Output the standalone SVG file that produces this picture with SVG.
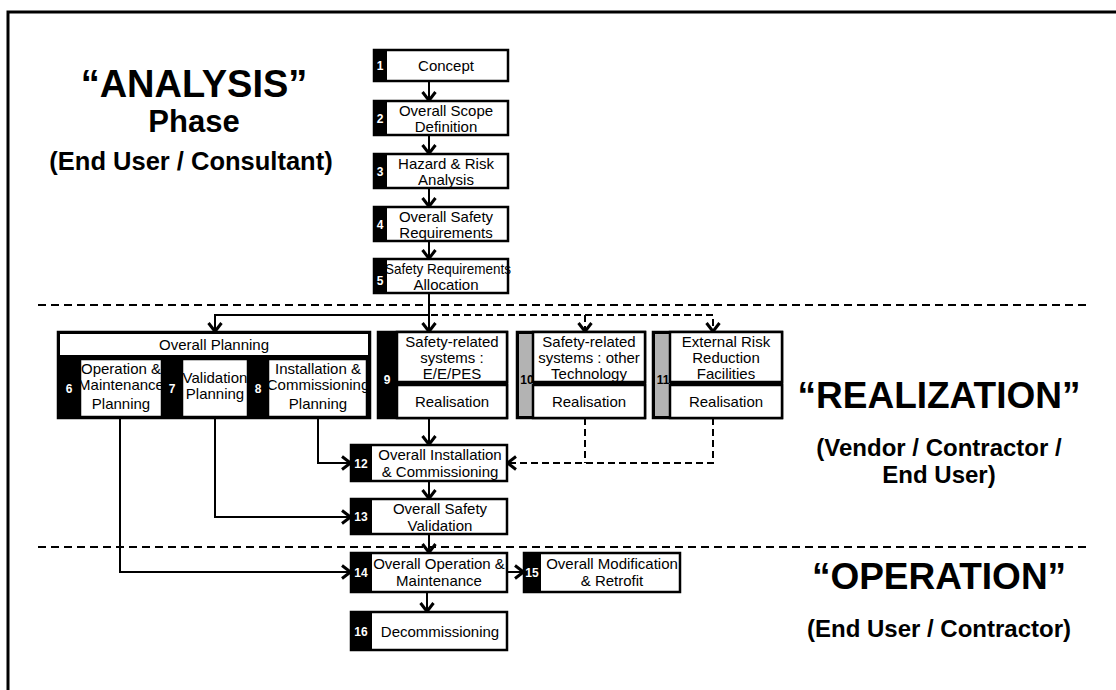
<svg xmlns="http://www.w3.org/2000/svg" width="1116" height="690" viewBox="0 0 1116 690">
  <style>
    .bx { fill: #fff; stroke: #000; stroke-width: 2.5; }
    .blk { fill: #000; }
    .t { font-family: "Liberation Sans", Arial, sans-serif; font-size: 15px; text-anchor: middle; fill: #000; }
    .n { font-family: "Liberation Sans", Arial, sans-serif; font-size: 12px; font-weight: bold; text-anchor: middle; fill: #fff; }
    .nk { font-family: "Liberation Sans", Arial, sans-serif; font-size: 12px; font-weight: bold; text-anchor: middle; fill: #000; }
    .h { font-family: "Liberation Sans", Arial, sans-serif; font-weight: bold; text-anchor: middle; fill: #000; }
    .ln { fill: none; stroke: #000; stroke-width: 2; }
    .dl { fill: none; stroke: #000; stroke-width: 2; stroke-dasharray: 7 4; }
    .ph { fill: none; stroke: #000; stroke-width: 2; stroke-dasharray: 8 5; }
  </style>
  <defs>
    <marker id="arr" viewBox="0 -8 12 16" refX="11" refY="0" markerWidth="12" markerHeight="16" orient="auto" markerUnits="userSpaceOnUse">
      <path d="M2,-6.5 L10.5,0 L2,6.5" fill="none" stroke="#000" stroke-width="3"/>
    </marker>
  </defs>

  <rect width="1116" height="690" fill="#fff"/>
  <!-- page frame -->
  <path d="M8,690 V12 H1116" fill="none" stroke="#000" stroke-width="3"/>

  <!-- phase separators -->
  <line class="ph" x1="38" y1="305" x2="1090" y2="305"/>
  <line class="ph" x1="38" y1="547" x2="1090" y2="547"/>

  <!-- phase headings -->
  <g id="analysis-heading">
    <text class="h" x="194" y="97" font-size="38">“ANALYSIS”</text>
    <text class="h" x="194" y="132" font-size="31">Phase</text>
    <text class="h" x="191" y="170" font-size="25.5">(End User / Consultant)</text>
  </g>
  <g id="realization-heading">
    <text class="h" x="939" y="408" font-size="37">“REALIZATION”</text>
    <text class="h" x="939" y="456" font-size="24">(Vendor / Contractor /</text>
    <text class="h" x="939" y="483" font-size="24">End User)</text>
  </g>
  <g id="operation-heading">
    <text class="h" x="939" y="589" font-size="37">“OPERATION”</text>
    <text class="h" x="939" y="637" font-size="24">(End User / Contractor)</text>
  </g>

  <!-- connectors -->
  <g id="connectors">
    <path class="ln" d="M429,81 V101" marker-end="url(#arr)"/>
    <path class="ln" d="M429,135 V154" marker-end="url(#arr)"/>
    <path class="ln" d="M429,188 V207" marker-end="url(#arr)"/>
    <path class="ln" d="M429,241 V259" marker-end="url(#arr)"/>
    <path class="ln" d="M429,293 V332" marker-end="url(#arr)"/>
    <path class="ln" d="M429,315 H215 V332" marker-end="url(#arr)"/>
    <path class="dl" d="M431,315 H585 V332" marker-end="url(#arr)"/>
    <path class="dl" d="M585,315 H713 V332" marker-end="url(#arr)"/>
    <path class="ln" d="M429,418 V445" marker-end="url(#arr)"/>
    <path class="ln" d="M318,418 V463 H351" marker-end="url(#arr)"/>
    <path class="dl" d="M713,418 V463 H507" marker-end="url(#arr)"/>
    <path class="dl" d="M585,418 V463"/>
    <path class="ln" d="M429,481 V499" marker-end="url(#arr)"/>
    <path class="ln" d="M215,418 V517 H351" marker-end="url(#arr)"/>
    <path class="ln" d="M429,534 V553" marker-end="url(#arr)"/>
    <path class="ln" d="M120,418 V572 H351" marker-end="url(#arr)"/>
    <path class="ln" d="M507,572 H524" marker-end="url(#arr)"/>
    <path class="ln" d="M427,592 V612" marker-end="url(#arr)"/>
  </g>

  <!-- analysis chain -->
  <g id="n1">
    <rect class="bx" x="374" y="50" width="134" height="31"/>
    <rect class="blk" x="374" y="50" width="13" height="31"/>
    <text class="n" x="380" y="70">1</text>
    <text class="t" x="446" y="71">Concept</text>
  </g>
  <g id="n2">
    <rect class="bx" x="374" y="101" width="134" height="34"/>
    <rect class="blk" x="374" y="101" width="13" height="34"/>
    <text class="n" x="380" y="123">2</text>
    <text class="t" x="446" y="116">Overall Scope</text>
    <text class="t" x="446" y="132">Definition</text>
  </g>
  <g id="n3">
    <rect class="bx" x="374" y="154" width="134" height="34"/>
    <rect class="blk" x="374" y="154" width="13" height="34"/>
    <text class="n" x="380" y="176">3</text>
    <text class="t" x="446" y="169">Hazard &amp; Risk</text>
    <text class="t" x="446" y="185">Analysis</text>
  </g>
  <g id="n4">
    <rect class="bx" x="374" y="207" width="134" height="34"/>
    <rect class="blk" x="374" y="207" width="13" height="34"/>
    <text class="n" x="380" y="229">4</text>
    <text class="t" x="446" y="222">Overall Safety</text>
    <text class="t" x="446" y="238">Requirements</text>
  </g>
  <g id="n5">
    <rect class="bx" x="374" y="259" width="134" height="34"/>
    <text class="t" x="448" y="274" textLength="126" lengthAdjust="spacingAndGlyphs">Safety Requirements</text>
    <text class="t" x="446" y="290">Allocation</text>
    <rect class="blk" x="374" y="259" width="13" height="34"/>
    <text class="n" x="380" y="285">5</text>
  </g>

  <!-- overall planning (6, 7, 8) -->
  <g id="overall-planning">
    <rect x="58" y="332" width="312" height="86" fill="#000" stroke="#000" stroke-width="2.5"/>
    <rect x="60" y="334" width="308" height="21" fill="#fff"/>
    <text class="t" x="214" y="350">Overall Planning</text>
  </g>
  <g id="n6">
    <rect class="bx" x="80" y="359" width="82" height="58"/>
    <text class="n" x="69" y="393">6</text>
    <text class="t" x="121" y="374">Operation &amp;</text>
    <text class="t" x="121" y="390">Maintenance</text>
    <text class="t" x="121" y="409">Planning</text>
  </g>
  <g id="n7">
    <rect class="bx" x="182" y="359" width="66" height="58"/>
    <text class="n" x="172" y="393">7</text>
    <text class="t" x="215" y="383">Validation</text>
    <text class="t" x="215" y="399">Planning</text>
  </g>
  <g id="n8">
    <rect class="bx" x="268" y="359" width="99" height="58"/>
    <text class="n" x="258" y="393">8</text>
    <text class="t" x="318" y="374">Installation &amp;</text>
    <text class="t" x="318" y="390">Commissioning</text>
    <text class="t" x="318" y="409">Planning</text>
  </g>

  <!-- realisation boxes -->
  <g id="n9">
    <rect x="378" y="332" width="129" height="86" fill="#000" stroke="#000" stroke-width="2.5"/>
    <rect class="bx" x="397" y="332" width="110" height="50"/>
    <rect class="bx" x="397" y="385" width="110" height="33"/>
    <text class="n" x="387" y="384">9</text>
    <text class="t" x="452" y="347">Safety-related</text>
    <text class="t" x="452" y="363">systems :</text>
    <text class="t" x="452" y="379">E/E/PES</text>
    <text class="t" x="452" y="407">Realisation</text>
  </g>
  <g id="n10">
    <rect x="517" y="332" width="128" height="86" fill="#000" stroke="#000" stroke-width="2.5"/>
    <rect x="519" y="334" width="14" height="82" fill="#b3b3b3"/>
    <rect class="bx" x="533" y="332" width="112" height="50"/>
    <rect class="bx" x="533" y="385" width="112" height="33"/>
    <text class="nk" x="527" y="384">10</text>
    <text class="t" x="589" y="347">Safety-related</text>
    <text class="t" x="589" y="363">systems : other</text>
    <text class="t" x="589" y="379">Technology</text>
    <text class="t" x="589" y="407">Realisation</text>
  </g>
  <g id="n11">
    <rect x="653" y="332" width="129" height="86" fill="#000" stroke="#000" stroke-width="2.5"/>
    <rect x="655" y="334" width="15" height="82" fill="#b3b3b3"/>
    <rect class="bx" x="670" y="332" width="112" height="50"/>
    <rect class="bx" x="670" y="385" width="112" height="33"/>
    <text class="nk" x="663" y="384">11</text>
    <text class="t" x="726" y="347">External Risk</text>
    <text class="t" x="726" y="363">Reduction</text>
    <text class="t" x="726" y="379">Facilities</text>
    <text class="t" x="726" y="407">Realisation</text>
  </g>

  <!-- installation, validation, operation -->
  <g id="n12">
    <rect class="bx" x="351" y="445" width="156" height="36"/>
    <rect class="blk" x="351" y="445" width="21" height="36"/>
    <text class="n" x="361" y="468">12</text>
    <text class="t" x="440" y="460">Overall Installation</text>
    <text class="t" x="440" y="477">&amp; Commissioning</text>
  </g>
  <g id="n13">
    <rect class="bx" x="351" y="499" width="156" height="35"/>
    <rect class="blk" x="351" y="499" width="21" height="35"/>
    <text class="n" x="361" y="521">13</text>
    <text class="t" x="440" y="514">Overall Safety</text>
    <text class="t" x="440" y="531">Validation</text>
  </g>
  <g id="n14">
    <rect class="bx" x="351" y="553" width="156" height="39"/>
    <rect class="blk" x="351" y="553" width="21" height="39"/>
    <text class="n" x="361" y="577">14</text>
    <text class="t" x="439" y="569">Overall Operation &amp;</text>
    <text class="t" x="439" y="586">Maintenance</text>
  </g>
  <g id="n15">
    <rect class="bx" x="524" y="553" width="156" height="39"/>
    <rect class="blk" x="524" y="553" width="17" height="39"/>
    <text class="n" x="532" y="577">15</text>
    <text class="t" x="612" y="569">Overall Modification</text>
    <text class="t" x="612" y="586">&amp; Retrofit</text>
  </g>
  <g id="n16">
    <rect class="bx" x="351" y="612" width="156" height="38"/>
    <rect class="blk" x="351" y="612" width="21" height="38"/>
    <text class="n" x="361" y="636">16</text>
    <text class="t" x="440" y="637">Decommissioning</text>
  </g>
</svg>
